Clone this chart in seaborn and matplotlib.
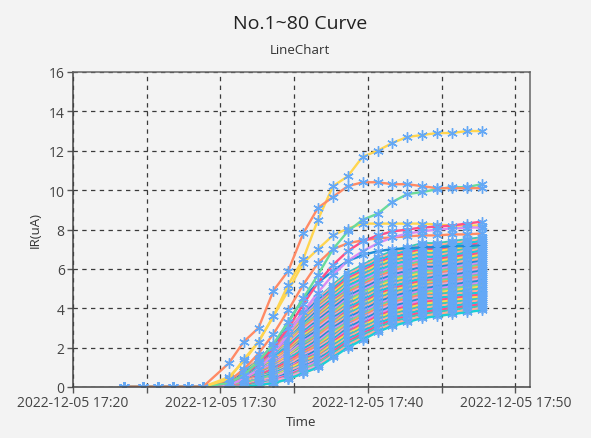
import matplotlib
matplotlib.use("Agg")
import matplotlib.pyplot as plt
import matplotlib.dates as mdates
import pandas as pd
import seaborn as sns

# ---------------- data ----------------
sample_date = "2022-12-05"
sample_times = ["17:23:27", "17:24:44", "17:25:45", "17:26:46", "17:27:47", "17:28:48",
                "17:30:34", "17:31:35", "17:32:35", "17:33:36", "17:34:36", "17:35:37",
                "17:36:37", "17:37:38", "17:38:38", "17:39:39", "17:40:40", "17:41:40",
                "17:42:41", "17:43:41", "17:44:42", "17:45:42", "17:46:43", "17:47:43"]

c01 = [0, 0, 0, 0, 0, 0, 1.2, 2.3, 3.0, 4.9, 5.9, 7.8, 9.1, 9.65, 10.2, 10.4, 10.4, 10.3, 10.3, 10.2, 10.1, 10.1, 10.1, 10.1]
c02 = [0, 0, 0, 0, 0, 0, .4, 1.4, 2.3, 3.6, 5.2, 6.5, 8.5, 10.2, 10.7, 11.7, 12.0, 12.4, 12.7, 12.8, 12.9, 12.9, 13.0, 13.0]
c03 = [0, 0, 0, 0, 0, 0, .2, .6, 1.3, 2.2, 3.3, 4.5, 5.7, 7.0, 7.9, 8.5, 8.8, 9.4, 9.8, 9.9, 10.05, 10.15, 10.15, 10.3]
c04 = [0, 0, 0, 0, 0, 0, .2, .6, 1.2, 2.0, 3.0, 4.2, 5.3, 6.2, 6.9, 7.4, 7.7, 7.9, 8.0, 8.1, 8.15, 8.2, 8.3, 8.4]
c05 = [0, 0, 0, 0, 0, 0, .1, .4, .9, 1.7, 2.7, 3.8, 4.8, 5.7, 6.4, 6.9, 7.3, 7.6, 7.8, 7.9, 8.0, 8.05, 8.1, 8.1]
c06 = [0, 0, 0, 0, 0, 0, 0, 0, .1, .2, .4, .7, 1.0, 1.5, 2.0, 2.4, 2.8, 3.1, 3.3, 3.5, 3.6, 3.7, 3.8, 3.9]
c07 = [0, 0, 0, 0, 0, 0, .2, .6, 1.2, 2.1, 3.3, 4.5, 5.3, 5.9, 6.4, 6.7, 6.9, 7.0, 7.05, 7.1, 7.1, 7.15, 7.15, 7.2]
c08 = [0, 0, 0, 0, 0, 0, 0, 0, .1, .2, .4, .7, 1.0, 1.6, 2.1, 2.5, 2.9, 3.2, 3.4, 3.6, 3.7, 3.8, 3.9, 4.0]
c09 = [0, 0, 0, 0, 0, 0, 0, 0, .1, .3, .5, .8, 1.1, 1.6, 2.1, 2.5, 2.9, 3.2, 3.4, 3.6, 3.7, 3.8, 3.9, 4.0]
c10 = [0, 0, 0, 0, 0, 0, 0, 0, .2, .3, .5, .8, 1.1, 1.7, 2.2, 2.6, 3.0, 3.3, 3.5, 3.7, 3.8, 3.9, 4.0, 4.1]
c11 = [0, 0, 0, 0, 0, 0, .3, .9, 1.7, 2.7, 3.9, 5.2, 6.3, 7.0, 7.3, 7.45, 7.55, 7.6, 7.65, 7.7, 7.7, 7.75, 7.75, 7.8]
c12 = [0, 0, 0, 0, 0, 0, .5, 1.3, 2.3, 3.6, 4.9, 6.3, 7.0, 7.7, 8.05, 8.3, 8.3, 8.3, 8.3, 8.3, 8.25, 8.2, 8.2, 8.2]
c13 = [0, 0, 0, 0, 0, 0, 0, 0, .2, .3, .5, .9, 1.2, 1.7, 2.2, 2.6, 3.0, 3.3, 3.5, 3.7, 3.8, 3.9, 4.0, 4.1]
c14 = [0, 0, 0, 0, 0, 0, 0, .1, .2, .3, .6, .9, 1.2, 1.8, 2.3, 2.7, 3.1, 3.4, 3.6, 3.8, 3.9, 4.0, 4.1, 4.2]
c15 = [0, 0, 0, 0, 0, 0, 0, .1, .2, .4, .6, 1.0, 1.3, 1.8, 2.3, 2.7, 3.1, 3.4, 3.6, 3.8, 3.9, 4.0, 4.1, 4.2]
c16 = [0, 0, 0, 0, 0, 0, 0, .1, .2, .4, .6, 1.0, 1.3, 1.9, 2.4, 2.8, 3.2, 3.5, 3.7, 3.9, 4.0, 4.1, 4.2, 4.3]
c17 = [0, 0, 0, 0, 0, 0, 0, .1, .2, .4, .7, 1.0, 1.4, 1.9, 2.4, 2.8, 3.2, 3.5, 3.7, 3.9, 4.0, 4.1, 4.2, 4.3]
c18 = [0, 0, 0, 0, 0, 0, 0, .1, .3, .4, .7, 1.1, 1.4, 2.0, 2.5, 2.9, 3.3, 3.6, 3.8, 4.0, 4.1, 4.2, 4.3, 4.4]
c19 = [0, 0, 0, 0, 0, 0, 0, .1, .3, .5, .8, 1.1, 1.5, 2.0, 2.5, 2.9, 3.3, 3.6, 3.8, 4.0, 4.1, 4.2, 4.3, 4.4]
c20 = [0, 0, 0, 0, 0, 0, 0, .1, .3, .5, .8, 1.2, 1.5, 2.1, 2.6, 3.0, 3.4, 3.7, 3.9, 4.1, 4.2, 4.3, 4.4, 4.5]
c21 = [0, 0, 0, 0, 0, 0, .1, .1, .3, .5, .8, 1.2, 1.6, 2.1, 2.6, 3.0, 3.4, 3.7, 3.9, 4.1, 4.2, 4.3, 4.4, 4.5]
c22 = [0, 0, 0, 0, 0, 0, .1, .1, .3, .5, .9, 1.3, 1.6, 2.2, 2.7, 3.1, 3.5, 3.8, 4.0, 4.2, 4.3, 4.4, 4.5, 4.6]
c23 = [0, 0, 0, 0, 0, 0, .1, .2, .4, .6, .9, 1.3, 1.7, 2.2, 2.7, 3.1, 3.5, 3.8, 4.0, 4.2, 4.3, 4.4, 4.5, 4.6]
c24 = [0, 0, 0, 0, 0, 0, .1, .2, .4, .6, .9, 1.4, 1.7, 2.3, 2.8, 3.2, 3.6, 3.9, 4.1, 4.3, 4.4, 4.5, 4.6, 4.7]
c25 = [0, 0, 0, 0, 0, 0, .1, .2, .4, .6, 1.0, 1.4, 1.8, 2.3, 2.9, 3.3, 3.7, 4.0, 4.2, 4.4, 4.4, 4.5, 4.6, 4.7]
c26 = [0, 0, 0, 0, 0, 0, .1, .2, .4, .7, 1.0, 1.4, 1.8, 2.4, 2.9, 3.3, 3.7, 4.0, 4.2, 4.4, 4.5, 4.6, 4.7, 4.8]
c27 = [0, 0, 0, 0, 0, 0, .1, .2, .4, .7, 1.0, 1.5, 1.9, 2.4, 3.0, 3.4, 3.8, 4.1, 4.3, 4.5, 4.5, 4.6, 4.7, 4.8]
c28 = [0, 0, 0, 0, 0, 0, .1, .2, .4, .7, 1.1, 1.5, 1.9, 2.5, 3.0, 3.4, 3.8, 4.1, 4.3, 4.5, 4.6, 4.7, 4.8, 4.9]
c29 = [0, 0, 0, 0, 0, 0, .1, .2, .5, .7, 1.1, 1.6, 2.0, 2.5, 3.1, 3.5, 3.9, 4.2, 4.4, 4.6, 4.6, 4.7, 4.8, 4.9]
c30 = [0, 0, 0, 0, 0, 0, .1, .2, .5, .8, 1.1, 1.6, 2.0, 2.6, 3.1, 3.5, 3.9, 4.2, 4.4, 4.6, 4.7, 4.8, 4.9, 5.0]
c31 = [0, 0, 0, 0, 0, 0, .1, .2, .5, .8, 1.2, 1.7, 2.1, 2.6, 3.2, 3.6, 4.0, 4.3, 4.5, 4.7, 4.7, 4.8, 4.9, 5.0]
c32 = [0, 0, 0, 0, 0, 0, .1, .3, .5, .8, 1.2, 1.7, 2.1, 2.7, 3.2, 3.6, 4.0, 4.3, 4.5, 4.7, 4.8, 4.9, 5.0, 5.1]
c33 = [0, 0, 0, 0, 0, 0, .1, .3, .5, .8, 1.2, 1.7, 2.2, 2.8, 3.3, 3.7, 4.1, 4.4, 4.6, 4.8, 4.9, 5.0, 5.1, 5.2]
c34 = [0, 0, 0, 0, 0, 0, .1, .3, .6, .9, 1.3, 1.8, 2.2, 2.8, 3.3, 3.7, 4.1, 4.4, 4.6, 4.8, 4.9, 5.0, 5.1, 5.2]
c35 = [0, 0, 0, 0, 0, 0, .1, .3, .6, .9, 1.3, 1.8, 2.3, 2.9, 3.4, 3.8, 4.2, 4.5, 4.7, 4.9, 5.0, 5.1, 5.2, 5.3]
c36 = [0, 0, 0, 0, 0, 0, .1, .3, .6, .9, 1.4, 1.9, 2.3, 2.9, 3.4, 3.8, 4.2, 4.5, 4.7, 4.9, 5.0, 5.1, 5.2, 5.3]
c37 = [0, 0, 0, 0, 0, 0, .1, .3, .6, .9, 1.4, 1.9, 2.4, 3.0, 3.5, 3.9, 4.3, 4.6, 4.8, 5.0, 5.1, 5.2, 5.3, 5.4]
c38 = [0, 0, 0, 0, 0, 0, .1, .3, .6, 1.0, 1.4, 2.0, 2.4, 3.0, 3.6, 4.0, 4.4, 4.7, 4.9, 5.1, 5.1, 5.2, 5.3, 5.4]
c39 = [0, 0, 0, 0, 0, 0, .1, .3, .6, 1.0, 1.5, 2.0, 2.5, 3.1, 3.6, 4.0, 4.4, 4.7, 4.9, 5.1, 5.2, 5.3, 5.4, 5.5]
c40 = [0, 0, 0, 0, 0, 0, .1, .3, .7, 1.0, 1.5, 2.1, 2.5, 3.1, 3.7, 4.1, 4.5, 4.8, 5.0, 5.2, 5.2, 5.3, 5.4, 5.5]
c41 = [0, 0, 0, 0, 0, 0, .1, .4, .7, 1.1, 1.5, 2.1, 2.6, 3.2, 3.7, 4.1, 4.5, 4.8, 5.0, 5.2, 5.3, 5.4, 5.5, 5.6]
c42 = [0, 0, 0, 0, 0, 0, .1, .4, .7, 1.1, 1.6, 2.1, 2.6, 3.2, 3.8, 4.2, 4.6, 4.9, 5.1, 5.3, 5.3, 5.4, 5.5, 5.6]
c43 = [0, 0, 0, 0, 0, 0, .1, .4, .7, 1.1, 1.6, 2.2, 2.7, 3.3, 3.8, 4.2, 4.6, 4.9, 5.1, 5.3, 5.4, 5.5, 5.6, 5.7]
c44 = [0, 0, 0, 0, 0, 0, .1, .4, .7, 1.1, 1.6, 2.2, 2.7, 3.3, 3.9, 4.3, 4.7, 5.0, 5.2, 5.4, 5.4, 5.5, 5.6, 5.7]
c45 = [0, 0, 0, 0, 0, 0, .2, .4, .8, 1.2, 1.7, 2.3, 2.8, 3.4, 3.9, 4.3, 4.7, 5.0, 5.2, 5.4, 5.5, 5.6, 5.7, 5.8]
c46 = [0, 0, 0, 0, 0, 0, .2, .4, .8, 1.2, 1.7, 2.3, 2.8, 3.4, 4.0, 4.4, 4.8, 5.1, 5.3, 5.5, 5.5, 5.6, 5.7, 5.8]
c47 = [0, 0, 0, 0, 0, 0, .2, .4, .8, 1.2, 1.7, 2.4, 2.9, 3.5, 4.0, 4.4, 4.8, 5.1, 5.3, 5.5, 5.6, 5.7, 5.8, 5.9]
c48 = [0, 0, 0, 0, 0, 0, .2, .4, .8, 1.2, 1.8, 2.4, 2.9, 3.5, 4.1, 4.5, 4.9, 5.2, 5.4, 5.6, 5.6, 5.7, 5.8, 5.9]
c49 = [0, 0, 0, 0, 0, 0, .2, .5, .8, 1.3, 1.8, 2.4, 3.0, 3.6, 4.1, 4.5, 4.9, 5.2, 5.4, 5.6, 5.7, 5.8, 5.9, 6.0]
c50 = [0, 0, 0, 0, 0, 0, .2, .5, .9, 1.3, 1.8, 2.5, 3.0, 3.6, 4.2, 4.6, 5.0, 5.3, 5.5, 5.7, 5.7, 5.8, 5.9, 6.0]
c51 = [0, 0, 0, 0, 0, 0, .2, .5, .9, 1.3, 1.9, 2.5, 3.1, 3.7, 4.2, 4.6, 5.0, 5.3, 5.5, 5.7, 5.8, 5.9, 6.0, 6.1]
c52 = [0, 0, 0, 0, 0, 0, .2, .5, .9, 1.4, 1.9, 2.6, 3.1, 3.7, 4.3, 4.7, 5.1, 5.4, 5.6, 5.8, 5.8, 5.9, 6.0, 6.1]
c53 = [0, 0, 0, 0, 0, 0, .2, .5, .9, 1.4, 1.9, 2.6, 3.2, 3.8, 4.4, 4.8, 5.2, 5.5, 5.7, 5.9, 5.9, 6.0, 6.1, 6.2]
c54 = [0, 0, 0, 0, 0, 0, .2, .5, .9, 1.4, 2.0, 2.7, 3.2, 3.8, 4.4, 4.8, 5.2, 5.5, 5.7, 5.9, 5.9, 6.0, 6.1, 6.2]
c55 = [0, 0, 0, 0, 0, 0, .2, .5, .9, 1.4, 2.0, 2.7, 3.3, 3.9, 4.5, 4.9, 5.3, 5.6, 5.8, 6.0, 6.0, 6.1, 6.2, 6.3]
c56 = [0, 0, 0, 0, 0, 0, .2, .5, 1.0, 1.5, 2.1, 2.8, 3.3, 3.9, 4.5, 4.9, 5.3, 5.6, 5.8, 6.0, 6.0, 6.1, 6.2, 6.3]
c57 = [0, 0, 0, 0, 0, 0, .2, .5, 1.0, 1.5, 2.1, 2.8, 3.4, 4.0, 4.6, 5.0, 5.4, 5.7, 5.9, 6.1, 6.1, 6.2, 6.3, 6.4]
c58 = [0, 0, 0, 0, 0, 0, .2, .6, 1.0, 1.5, 2.1, 2.8, 3.4, 4.1, 4.6, 5.0, 5.4, 5.7, 5.9, 6.1, 6.2, 6.3, 6.4, 6.5]
c59 = [0, 0, 0, 0, 0, 0, .2, .6, 1.0, 1.5, 2.2, 2.9, 3.5, 4.1, 4.7, 5.1, 5.5, 5.8, 6.0, 6.2, 6.2, 6.3, 6.4, 6.5]
c60 = [0, 0, 0, 0, 0, 0, .2, .6, 1.0, 1.6, 2.2, 2.9, 3.5, 4.2, 4.7, 5.1, 5.5, 5.8, 6.0, 6.2, 6.3, 6.4, 6.5, 6.6]
c61 = [0, 0, 0, 0, 0, 0, .2, .6, 1.1, 1.6, 2.2, 3.0, 3.6, 4.2, 4.8, 5.2, 5.6, 5.9, 6.1, 6.3, 6.3, 6.4, 6.5, 6.6]
c62 = [0, 0, 0, 0, 0, 0, .2, .6, 1.1, 1.6, 2.3, 3.0, 3.6, 4.3, 4.8, 5.2, 5.6, 5.9, 6.1, 6.3, 6.4, 6.5, 6.6, 6.7]
c63 = [0, 0, 0, 0, 0, 0, .2, .6, 1.1, 1.6, 2.3, 3.1, 3.7, 4.3, 4.9, 5.3, 5.7, 6.0, 6.2, 6.4, 6.4, 6.5, 6.6, 6.7]
c64 = [0, 0, 0, 0, 0, 0, .2, .6, 1.1, 1.7, 2.3, 3.1, 3.7, 4.4, 4.9, 5.3, 5.7, 6.0, 6.2, 6.4, 6.5, 6.6, 6.7, 6.8]
c65 = [0, 0, 0, 0, 0, 0, .2, .6, 1.1, 1.7, 2.4, 3.1, 3.8, 4.4, 5.0, 5.4, 5.8, 6.1, 6.3, 6.5, 6.5, 6.6, 6.7, 6.8]
c66 = [0, 0, 0, 0, 0, 0, .2, .6, 1.1, 1.7, 2.4, 3.2, 3.8, 4.5, 5.1, 5.5, 5.9, 6.2, 6.4, 6.6, 6.6, 6.7, 6.8, 6.9]
c67 = [0, 0, 0, 0, 0, 0, .2, .7, 1.2, 1.8, 2.4, 3.2, 3.9, 4.5, 5.1, 5.5, 5.9, 6.2, 6.4, 6.6, 6.6, 6.7, 6.8, 6.9]
c68 = [0, 0, 0, 0, 0, 0, .2, .7, 1.2, 1.8, 2.5, 3.3, 3.9, 4.6, 5.2, 5.6, 6.0, 6.3, 6.5, 6.7, 6.7, 6.8, 6.9, 7.0]
c69 = [0, 0, 0, 0, 0, 0, .3, .7, 1.2, 1.8, 2.5, 3.3, 4.0, 4.6, 5.2, 5.6, 6.0, 6.3, 6.5, 6.7, 6.7, 6.8, 6.9, 7.0]
c70 = [0, 0, 0, 0, 0, 0, .3, .7, 1.2, 1.8, 2.5, 3.4, 4.0, 4.7, 5.3, 5.7, 6.1, 6.4, 6.6, 6.8, 6.8, 6.9, 7.0, 7.1]
c71 = [0, 0, 0, 0, 0, 0, .3, .7, 1.2, 1.9, 2.6, 3.4, 4.1, 4.7, 5.3, 5.7, 6.1, 6.4, 6.6, 6.8, 6.8, 6.9, 7.0, 7.1]
c72 = [0, 0, 0, 0, 0, 0, .3, .7, 1.3, 1.9, 2.6, 3.5, 4.1, 4.8, 5.4, 5.8, 6.2, 6.5, 6.7, 6.9, 6.9, 7.0, 7.1, 7.2]
c73 = [0, 0, 0, 0, 0, 0, .3, .7, 1.3, 1.9, 2.7, 3.5, 4.2, 4.8, 5.4, 5.8, 6.2, 6.5, 6.7, 6.9, 6.9, 7.0, 7.1, 7.2]
c74 = [0, 0, 0, 0, 0, 0, .3, .7, 1.3, 1.9, 2.7, 3.5, 4.2, 4.9, 5.5, 5.9, 6.3, 6.6, 6.8, 7.0, 7.0, 7.1, 7.2, 7.3]
c75 = [0, 0, 0, 0, 0, 0, .3, .7, 1.3, 2.0, 2.7, 3.6, 4.3, 4.9, 5.5, 5.9, 6.3, 6.6, 6.8, 7.0, 7.0, 7.1, 7.2, 7.3]
c76 = [0, 0, 0, 0, 0, 0, .3, .8, 1.3, 2.0, 2.8, 3.6, 4.3, 5.0, 5.6, 6.0, 6.4, 6.7, 6.9, 7.1, 7.1, 7.2, 7.3, 7.4]
c77 = [0, 0, 0, 0, 0, 0, .3, .8, 1.3, 2.0, 2.8, 3.7, 4.4, 5.0, 5.6, 6.0, 6.4, 6.7, 6.9, 7.1, 7.1, 7.2, 7.3, 7.4]
c78 = [0, 0, 0, 0, 0, 0, .3, .8, 1.4, 2.0, 2.8, 3.7, 4.4, 5.1, 5.7, 6.1, 6.5, 6.8, 7.0, 7.2, 7.2, 7.3, 7.4, 7.5]
c79 = [0, 0, 0, 0, 0, 0, .3, .8, 1.4, 2.1, 2.9, 3.8, 4.5, 5.1, 5.7, 6.1, 6.5, 6.8, 7.0, 7.2, 7.2, 7.3, 7.4, 7.5]
c80 = [0, 0, 0, 0, 0, 0, .3, .8, 1.4, 2.1, 2.9, 3.8, 4.5, 5.2, 5.8, 6.2, 6.6, 6.9, 7.1, 7.3, 7.3, 7.4, 7.5, 7.6]

curves = [c01, c02, c03, c04, c05, c06, c07, c08, c09, c10,
          c11, c12, c13, c14, c15, c16, c17, c18, c19, c20,
          c21, c22, c23, c24, c25, c26, c27, c28, c29, c30,
          c31, c32, c33, c34, c35, c36, c37, c38, c39, c40,
          c41, c42, c43, c44, c45, c46, c47, c48, c49, c50,
          c51, c52, c53, c54, c55, c56, c57, c58, c59, c60,
          c61, c62, c63, c64, c65, c66, c67, c68, c69, c70,
          c71, c72, c73, c74, c75, c76, c77, c78, c79, c80]
curve_names = ["No.%d" % i for i in range(1, 81)]

line_colors = ["#ff8a65", "#ffd54f", "#69db9c", "#ff4f87", "#d98cf2",
               "#19cfd6", "#1e8fd6", "#ffab91", "#f7a1d0", "#3cc9b8"]
marker_color = "#64a8f6"

title_text = "No.1~80 Curve"
subtitle_text = "LineChart"
x_label = "Time"
y_label = "IR(uA)"
y_ticks = [0, 2, 4, 6, 8, 10, 12, 14, 16]

# ---------------- build long table ----------------
times = pd.to_datetime([sample_date + " " + t for t in sample_times])
rows = []
for name, vals in zip(curve_names, curves):
    for t, v in zip(times, vals):
        rows.append((name, t, v))
df = pd.DataFrame(rows, columns=["curve", "Time", "IR"])

# ---------------- plot ----------------
sns.set_theme(style="white")
plt.rcParams["font.family"] = ["Open Sans", "DejaVu Sans"]

bg = "#f3f3f3"
fig = plt.figure(figsize=(5.91, 4.39), dpi=100, facecolor=bg)
ax = fig.add_axes([73 / 591, 51 / 439, 457 / 591, 315 / 439])
ax.set_facecolor(bg)

palette = {name: line_colors[i % len(line_colors)] for i, name in enumerate(curve_names)}
sns.lineplot(data=df, x="Time", y="IR", hue="curve", hue_order=curve_names[::-1],
             palette=palette, estimator=None, sort=False, legend=False, ax=ax,
             linewidth=1.7, marker=(6, 2, 0), markersize=7.5,
             markeredgecolor=marker_color, markeredgewidth=1.0)

ax.set_xlim(pd.Timestamp(sample_date + " 17:20:00"), pd.Timestamp(sample_date + " 17:51:00"))
ax.set_ylim(0, 16)
ax.set_yticks(y_ticks)
ax.xaxis.set_major_locator(mdates.MinuteLocator(byminute=range(0, 60, 10)))
ax.xaxis.set_minor_locator(mdates.MinuteLocator(byminute=range(5, 60, 10)))
ax.xaxis.set_major_formatter(mdates.DateFormatter("%Y-%m-%d %H:%M"))

grid_kw = dict(color="#3a3a3a", linestyle=(0, (3.5, 3.5)), linewidth=0.9)
ax.grid(True, which="both", axis="x", **grid_kw)
ax.grid(True, which="major", axis="y", **grid_kw)
ax.set_axisbelow(True)

ax.tick_params(axis="both", which="both", direction="out", length=4.5, width=1,
               color="#555555", labelsize=10, labelcolor="#444444",
               bottom=True, left=True, pad=1.5)

for side, sp in ax.spines.items():
    sp.set_visible(True)
    sp.set_linewidth(1.1)
    sp.set_color("#444444" if side in ("left", "bottom") else "#666666")

ax.set_xlabel(x_label, fontsize=9.5, color="#333333")
ax.set_ylabel(y_label, fontsize=9.5, color="#333333")
ax.xaxis.set_label_coords(0.5, -0.09)
ax.yaxis.set_label_coords(-0.068, 0.5)

fig.text(300 / 591, 1 - 24 / 439, title_text, ha="center", va="center",
         fontsize=14, color="#222222")
fig.text(300 / 591, 1 - 50 / 439, subtitle_text, ha="center", va="center",
         fontsize=9.5, color="#333333")

fig.savefig("out.png", dpi=100, facecolor=bg)
